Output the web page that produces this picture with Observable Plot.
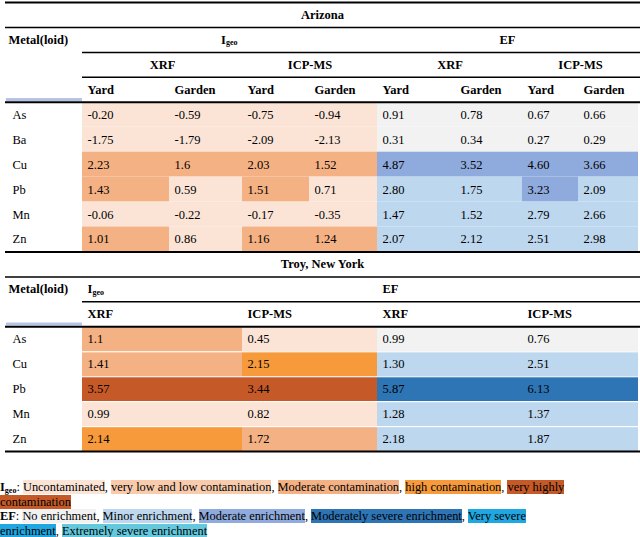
<!DOCTYPE html>
<html><head><meta charset="utf-8">
<script src="https://cdn.jsdelivr.net/npm/d3@7"></script>
<script src="https://cdn.jsdelivr.net/npm/@observablehq/plot@0.6"></script>
<style>
body{margin:0;background:#fff;font-family:"Liberation Serif","Times New Roman",serif;color:#000;}
#chart svg{display:block;}
#chart svg, #chart svg text{font-family:"Liberation Serif","Times New Roman",serif !important;}
#legend{width:575px;font-size:12.4px;line-height:14.5px;margin-top:15px;}
#legend p{margin:0;}
#legend sub{font-size:8px;vertical-align:-2px;line-height:0;}
</style></head><body>
<div id="chart"></div>
<div id="legend"></div>
<script>
// ---------- data ----------
const azMetals = ["As","Ba","Cu","Pb","Mn","Zn"];
const nyMetals = ["As","Cu","Pb","Mn","Zn"];

// Arizona Igeo
const azIgeoXrfYard   = ["-0.20","-1.75","2.23","1.43","-0.06","1.01"];
const azIgeoXrfGarden = ["-0.59","-1.79","1.6","0.59","-0.22","0.86"];
const azIgeoIcpYard   = ["-0.75","-2.09","2.03","1.51","-0.17","1.16"];
const azIgeoIcpGarden = ["-0.94","-2.13","1.52","0.71","-0.35","1.24"];
// Arizona EF
const azEfXrfYard   = ["0.91","0.31","4.87","2.80","1.47","2.07"];
const azEfXrfGarden = ["0.78","0.34","3.52","1.75","1.52","2.12"];
const azEfIcpYard   = ["0.67","0.27","4.60","3.23","2.79","2.51"];
const azEfIcpGarden = ["0.66","0.29","3.66","2.09","2.66","2.98"];
// Troy Igeo / EF
const nyIgeoXrf = ["1.1","1.41","3.57","0.99","2.14"];
const nyIgeoIcp = ["0.45","2.15","3.44","0.82","1.72"];
const nyEfXrf   = ["0.99","1.30","5.87","1.28","2.18"];
const nyEfIcp   = ["0.76","2.51","6.13","1.37","1.87"];

// shading class of each cell
const azIgeoXrfYardCls   = ["Uncontaminated","Uncontaminated","Moderate contamination","Moderate contamination","Uncontaminated","Moderate contamination"];
const azIgeoXrfGardenCls = ["Uncontaminated","Uncontaminated","Moderate contamination","Uncontaminated","Uncontaminated","Uncontaminated"];
const azIgeoIcpYardCls   = ["Uncontaminated","Uncontaminated","Moderate contamination","Moderate contamination","Uncontaminated","Moderate contamination"];
const azIgeoIcpGardenCls = ["Uncontaminated","Uncontaminated","Moderate contamination","Uncontaminated","Uncontaminated","Moderate contamination"];
const azEfXrfYardCls   = ["No enrichment","No enrichment","Moderate enrichment","Minor enrichment","Minor enrichment","Minor enrichment"];
const azEfXrfGardenCls = ["No enrichment","No enrichment","Moderate enrichment","Minor enrichment","Minor enrichment","Minor enrichment"];
const azEfIcpYardCls   = ["No enrichment","No enrichment","Moderate enrichment","Moderate enrichment","Minor enrichment","Minor enrichment"];
const azEfIcpGardenCls = ["No enrichment","No enrichment","Moderate enrichment","Minor enrichment","Minor enrichment","Minor enrichment"];
const nyIgeoXrfCls = ["Moderate contamination","Moderate contamination","very highly contamination","Uncontaminated","high contamination"];
const nyIgeoIcpCls = ["Uncontaminated","high contamination","very highly contamination","Uncontaminated","Moderate contamination"];
const nyEfXrfCls = ["No enrichment","Minor enrichment","Moderately severe enrichment","Minor enrichment","Minor enrichment"];
const nyEfIcpCls = ["No enrichment","Minor enrichment","Moderately severe enrichment","Minor enrichment","Minor enrichment"];

// legend classes
const igeoClasses = ["Uncontaminated","very low and low contamination","Moderate contamination","high contamination","very highly contamination"];
const igeoColors  = ["#FBE4D6","#F8CBAD","#F4B183","#F79A3B","#C55A28"];
const efClasses = ["No enrichment","Minor enrichment","Moderate enrichment","Moderately severe enrichment","Very severe enrichment","Extremely severe enrichment"];
const efColors  = ["#F2F2F2","#BDD7EE","#8FAADC","#2E75B6","#1FA7E1","#64C9DC"];

// header labels
const methods = ["XRF","ICP-MS"];
const sites = ["Yard","Garden"];

// ---------- layout (not data) ----------
const azEdges = [82,169,242,309,377,455,522,578,638];
const nyEdges = [82,242,377,522,638];
const azRow0 = 4, nyRow0 = 13, nRows = 18;

// ---------- build table cells ----------
const cells = [];
const azCols = [
  [azIgeoXrfYard, azIgeoXrfYardCls],[azIgeoXrfGarden, azIgeoXrfGardenCls],
  [azIgeoIcpYard, azIgeoIcpYardCls],[azIgeoIcpGarden, azIgeoIcpGardenCls],
  [azEfXrfYard, azEfXrfYardCls],[azEfXrfGarden, azEfXrfGardenCls],
  [azEfIcpYard, azEfIcpYardCls],[azEfIcpGarden, azEfIcpGardenCls]];
azCols.forEach(([vals, cls], j) => vals.forEach((v, i) =>
  cells.push({x1: azEdges[j], x2: azEdges[j+1], row: azRow0 + i, text: v, cls: cls[i], inset: false})));
const nyCols = [[nyIgeoXrf, nyIgeoXrfCls],[nyIgeoIcp, nyIgeoIcpCls],[nyEfXrf, nyEfXrfCls],[nyEfIcp, nyEfIcpCls]];
nyCols.forEach(([vals, cls], j) => vals.forEach((v, i) =>
  cells.push({x1: nyEdges[j], x2: nyEdges[j+1], row: nyRow0 + i, text: v, cls: cls[i], inset: true})));

const metalLabels = [
  ...azMetals.map((m, i) => ({text: m, row: azRow0 + i})),
  ...nyMetals.map((m, i) => ({text: m, row: nyRow0 + i}))];

// header texts
const centered = [
  {text: "Arizona", x: 322, row: 0},
  {text: "Troy, New York", x: 322, row: 10},
  {text: "EF", x: 507, row: 1},
  {text: methods[0], x: (azEdges[0]+azEdges[2])/2, row: 2},
  {text: methods[1], x: (azEdges[2]+azEdges[4])/2, row: 2},
  {text: methods[0], x: (azEdges[4]+azEdges[6])/2, row: 2},
  {text: methods[1], x: (azEdges[6]+azEdges[8])/2, row: 2}];
const lefts = [
  {text: "Metal(loid)", x: 8, row: 1},
  {text: "Metal(loid)", x: 8, row: 11},
  {text: "EF", x: nyEdges[2] + 5, row: 11},
  ...azEdges.slice(0, 8).map((e, j) => ({text: sites[j % 2], x: e + 5, row: 3})),
  ...nyEdges.slice(0, 4).map((e, j) => ({text: methods[j % 2], x: e + 5, row: 12}))];
const igeoI = [{x: 220.5, row: 1}, {x: nyEdges[0] + 5, row: 11}];

const rules = [
  {y: 0, x1: 5, w: 2}, {y: 1, x1: 5, w: 1.5}, {y: 2, x1: 82, w: 1.5}, {y: 3, x1: 82, w: 1.5},
  {y: 4, x1: 5, w: 2}, {y: 10, x1: 5, w: 2}, {y: 11, x1: 5, w: 1.5}, {y: 12, x1: 82, w: 1.5},
  {y: 13, x1: 5, w: 2}, {y: 18, x1: 5, w: 2}];
const bars = [{row: 4}, {row: 13}];

const font = {fontFamily: "Liberation Serif", fontSize: 12.5, fill: "black"};

const chart = Plot.plot({
  width: 640, height: 465, margin: 0,
  x: {type: "linear", domain: [0, 640], range: [0, 640], axis: null},
  y: {type: "linear", domain: [0, nRows], range: [2, 451], axis: null},
  color: {type: "ordinal", domain: [...igeoClasses, ...efClasses], range: [...igeoColors, ...efColors]},
  style: {background: "white", fontFamily: "Liberation Serif"},
  marks: [
    Plot.rect(cells, {x1: "x1", x2: "x2", y1: d => d.row, y2: d => d.row + 1, fill: "cls"}),
    Plot.rect(cells.filter(d => d.inset), {x1: "x1", x2: "x2", y1: d => d.row, y2: d => d.row + 0.045, fill: "white"}),
    Plot.rect(bars, {x1: 6, x2: 82, y1: d => d.row - 0.15, y2: d => d.row - 0.03, fill: "#B4C3E6"}),
    Plot.ruleY(rules, {y: "y", x1: "x1", x2: 640, stroke: "black", strokeWidth: "w"}),
    Plot.text(cells, {x: d => d.x1 + 5, y: d => d.row + 0.5, text: "text", textAnchor: "start", ...font}),
    Plot.text(metalLabels, {x: 12, y: d => d.row + 0.5, text: "text", textAnchor: "start", ...font}),
    Plot.text(centered, {x: "x", y: d => d.row + 0.5, text: "text", textAnchor: "middle", fontWeight: "bold", ...font}),
    Plot.text(lefts, {x: "x", y: d => d.row + 0.5, text: "text", textAnchor: "start", fontWeight: "bold", ...font}),
    Plot.text(igeoI, {x: "x", y: d => d.row + 0.5, text: () => "I", textAnchor: "start", fontWeight: "bold", ...font}),
    Plot.text(igeoI, {x: d => d.x + 4.9, y: d => d.row + 0.5, text: () => "geo", textAnchor: "start", fontWeight: "bold",
      fontFamily: "Liberation Serif", fontSize: 8, dy: 3, fill: "black"})
  ]
});
document.getElementById("chart").appendChild(chart);

// ---------- legend ----------
const span = (t, c) => `<span style="background:${c}">${t}</span>`;
const legend = document.getElementById("legend");
legend.innerHTML =
  `<p><b>I<sub>geo</sub></b>: ${igeoClasses.map((c, i) => span(c, igeoColors[i])).join(", ")}</p>` +
  `<p><b>EF</b>: ${efClasses.map((c, i) => span(c, efColors[i])).join(", ")}</p>`;
</script>
</body></html>
